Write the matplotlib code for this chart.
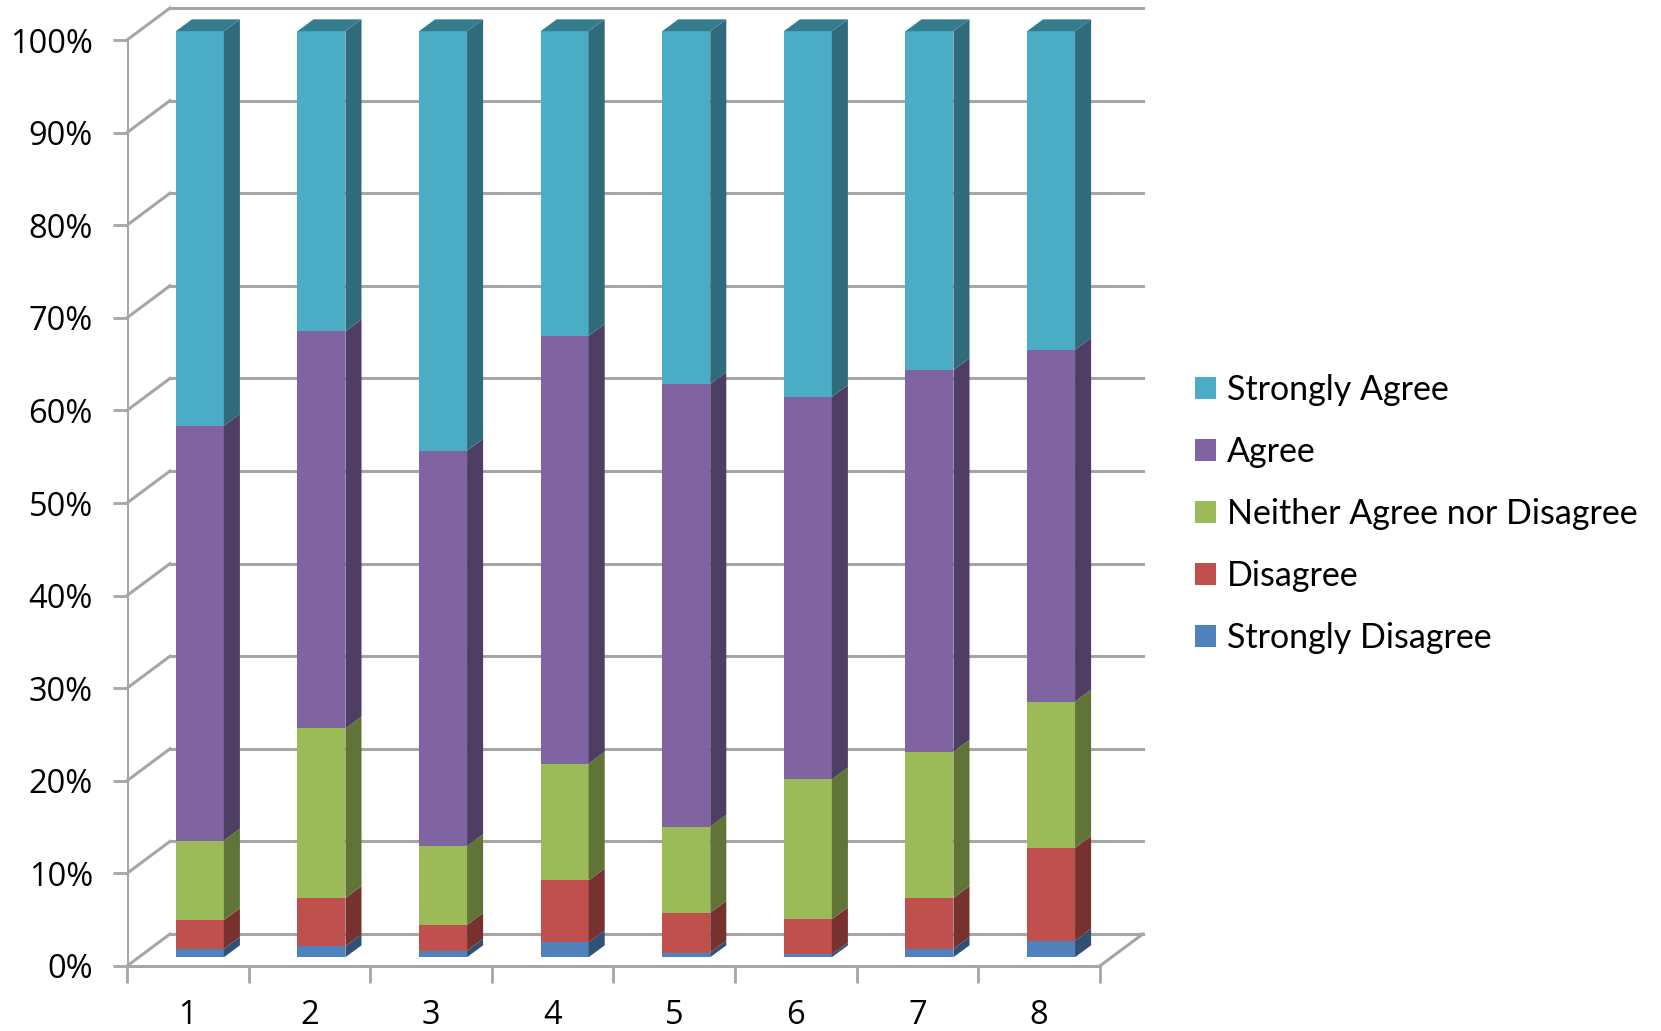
import numpy as np
import matplotlib.pyplot as plt
from matplotlib.patches import Polygon
from matplotlib.ticker import PercentFormatter
from matplotlib.colors import to_rgb

plt.rcParams['font.family'] = ['Open Sans', 'DejaVu Sans']

categories = ['1', '2', '3', '4', '5', '6', '7', '8']
strongly_disagree = [0.9, 1.2, 0.7, 1.6, 0.5, 0.3, 0.9, 1.8]
disagree = [3.1, 5.2, 2.8, 6.7, 4.3, 3.8, 5.5, 10.0]
neither = [8.6, 18.3, 8.5, 12.6, 9.3, 15.1, 15.8, 15.8]
agree = [44.8, 42.9, 42.7, 46.2, 47.8, 41.3, 41.2, 38.0]
strongly_agree = [42.6, 32.4, 45.3, 32.9, 38.1, 39.5, 36.6, 34.4]

series = [
    ('Strongly Disagree', strongly_disagree, '#4F81BD'),
    ('Disagree', disagree, '#C0504D'),
    ('Neither Agree nor Disagree', neither, '#9BBB59'),
    ('Agree', agree, '#8064A2'),
    ('Strongly Agree', strongly_agree, '#4BACC6'),
]

# fake 3d geometry (data units)
DX, DY = 0.354, 0.0346       # depth of the box
FX, FY = 0.099, 0.0095       # bar front offset from front plane
BX, BY = 0.132, 0.0128       # bar depth
W = 0.395
grid_c = '#A6A6A6'


def shade(c, f):
    return tuple(np.array(to_rgb(c)) * f)


fig = plt.figure(figsize=(16.61, 10.31), dpi=100)
ax = fig.add_axes([127 / 1661, 65 / 1031, 8.5 * 121.6 / 1661, 1.04 * 926 / 1031])
ax.set_xlim(0, 8.5)
ax.set_ylim(0, 1.04)
for s in ax.spines.values():
    s.set_visible(False)

# walls
yt = np.arange(0, 1.01, 0.1)
for y in yt:
    ax.plot([DX, 8 + DX], [y + DY, y + DY], color=grid_c, lw=2.2, zorder=1, clip_on=False)
    ax.plot([0, DX], [y, y + DY], color=grid_c, lw=2.2, zorder=1, clip_on=False)
ax.plot([0, 0], [0, 1], color=grid_c, lw=2.2, zorder=1)
ax.plot([0, 8], [0, 0], color=grid_c, lw=2.2, zorder=1, clip_on=False)
ax.plot([8, 8 + DX], [0, DY], color=grid_c, lw=2.2, zorder=1, clip_on=False)

x = np.arange(len(categories)) + 0.5
bottom = np.zeros(len(categories))
handles = []
for name, vals, col in series:
    v = np.array(vals) / 100.0
    h = ax.bar(x + FX, v, W, bottom=bottom + FY, color=col, zorder=3, label=name)
    handles.append(h)
    for xi, b, t in zip(x, bottom, bottom + v):
        xr = xi + FX + W / 2
        side = [(xr, b + FY), (xr + BX, b + FY + BY), (xr + BX, t + FY + BY), (xr, t + FY)]
        ax.add_patch(Polygon(side, closed=True, color=shade(col, 0.62), zorder=3, lw=0))
    bottom = bottom + v

# tops of the stacks
for xi, t in zip(x, bottom):
    xl = xi + FX - W / 2
    xr = xi + FX + W / 2
    top = [(xl, t + FY), (xr, t + FY), (xr + BX, t + FY + BY), (xl + BX, t + FY + BY)]
    ax.add_patch(Polygon(top, closed=True, color=shade(series[-1][2], 0.72), zorder=4, lw=0, clip_on=False))

ax.set_yticks(yt)
ax.yaxis.set_major_formatter(PercentFormatter(1.0, decimals=0))
ax.tick_params(axis='y', length=10, width=2, color=grid_c, pad=14.5, labelsize=23.5)
ax.set_xticks(np.arange(0, 9))
ax.set_xticklabels([])
ax.set_xticks(x, minor=True)
ax.set_xticklabels(categories, minor=True)
ax.tick_params(axis='x', which='major', length=12, width=2, color=grid_c)
ax.tick_params(axis='x', which='minor', length=0, pad=24, labelsize=23.5)

leg = fig.legend(handles[::-1], [s[0] for s in series[::-1]], loc='upper left',
                 bbox_to_anchor=(1164 / 1661, 1 - 343 / 1031), frameon=False,
                 prop={'family': ['Lato', 'DejaVu Sans'], 'size': 24.5},
                 handlelength=0.62, handleheight=0.62, handletextpad=0.32,
                 labelspacing=0.885)

plt.savefig('out.png', dpi=100)
